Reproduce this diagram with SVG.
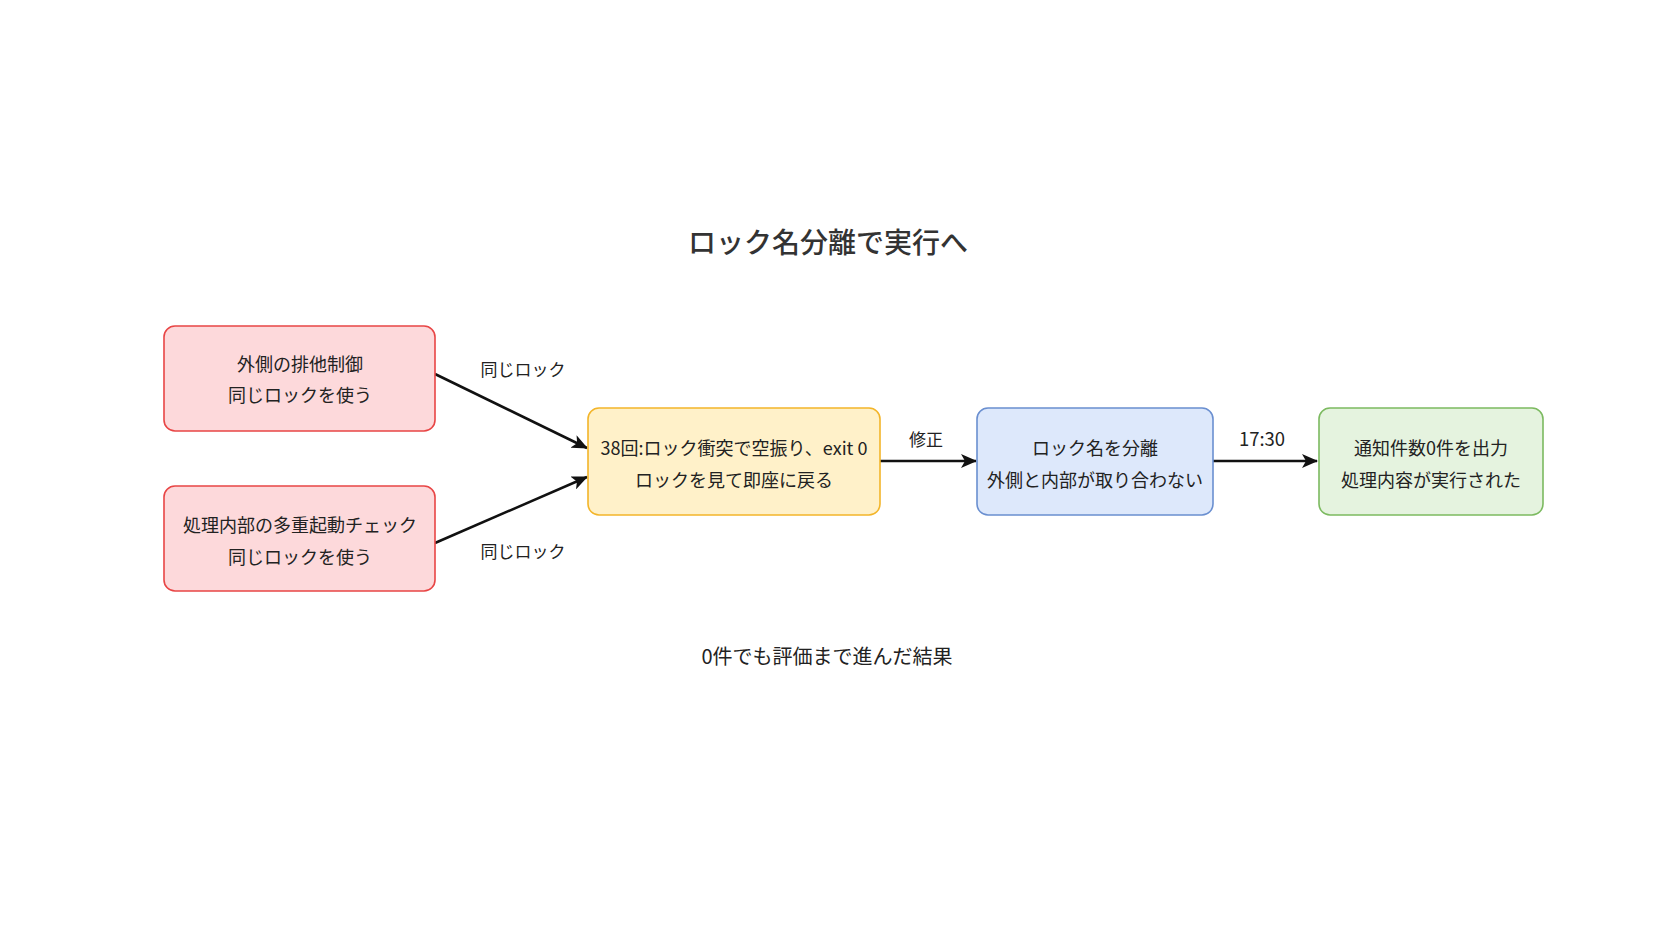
<svg xmlns="http://www.w3.org/2000/svg" width="1672" height="941" viewBox="0 0 1672 941">
<style>
text{font-family:"Noto Sans CJK JP","Noto Sans",sans-serif;fill:#222;text-anchor:middle;dominant-baseline:central}
.t{font-size:18px}
.l{font-size:17px}
.title{font-size:28px;font-weight:500;fill:#333}
.red{fill:#fdd9db;stroke:#e84545;stroke-width:1.6}
.yel{fill:#fff1c9;stroke:#f3b52a;stroke-width:1.6}
.blu{fill:#dde8fb;stroke:#6a8fd0;stroke-width:1.6}
.grn{fill:#e5f3df;stroke:#7cba60;stroke-width:1.6}
.e{stroke:#111;stroke-width:2.6;fill:none;marker-end:url(#ah)}
</style>
<defs>
<marker id="ah" markerWidth="16" markerHeight="14" refX="15" refY="7" orient="auto" markerUnits="userSpaceOnUse" viewBox="0 0 16 14">
<path d="M0,0 L16,7 L0,14 L4,7 z" fill="#111"/>
</marker>
</defs>
<rect width="1672" height="941" fill="#fff"/>
<text class="title" x="828" y="241">ロック名分離で実行へ</text>
<g id="connectors">
<line class="e" x1="435" y1="374" x2="587" y2="448"/>
<line class="e" x1="435" y1="543" x2="587" y2="477"/>
<line class="e" x1="880" y1="461" x2="976" y2="461"/>
<line class="e" x1="1213" y1="461" x2="1317" y2="461"/>
<text class="l" x="523" y="368">同じロック</text>
<text class="l" x="523" y="550">同じロック</text>
<text class="l" x="926" y="438">修正</text>
<text class="l" x="1262" y="438" style="font-size:18.5px">17:30</text>
</g>
<g id="n1">
<rect class="red" x="164" y="326" width="271" height="105" rx="11"/>
<text class="t" x="300" y="363">外側の排他制御</text>
<text class="t" x="300" y="394">同じロックを使う</text>
</g>
<g id="n2">
<rect class="red" x="164" y="486" width="271" height="105" rx="11"/>
<text class="t" x="300" y="524">処理内部の多重起動チェック</text>
<text class="t" x="300" y="556">同じロックを使う</text>
</g>
<g id="n3">
<rect class="yel" x="588" y="408" width="292" height="107" rx="11"/>
<text class="t" x="734" y="447">38回:ロック衝突で空振り、exit 0</text>
<text class="t" x="734" y="479">ロックを見て即座に戻る</text>
</g>
<g id="n4">
<rect class="blu" x="977" y="408" width="236" height="107" rx="11"/>
<text class="t" x="1095" y="447">ロック名を分離</text>
<text class="t" x="1095" y="479">外側と内部が取り合わない</text>
</g>
<g id="n5">
<rect class="grn" x="1319" y="408" width="224" height="107" rx="11"/>
<text class="t" x="1431" y="447">通知件数0件を出力</text>
<text class="t" x="1431" y="479">処理内容が実行された</text>
</g>
<text x="827" y="655" style="font-size:20px">0件でも評価まで進んだ結果</text>
</svg>
